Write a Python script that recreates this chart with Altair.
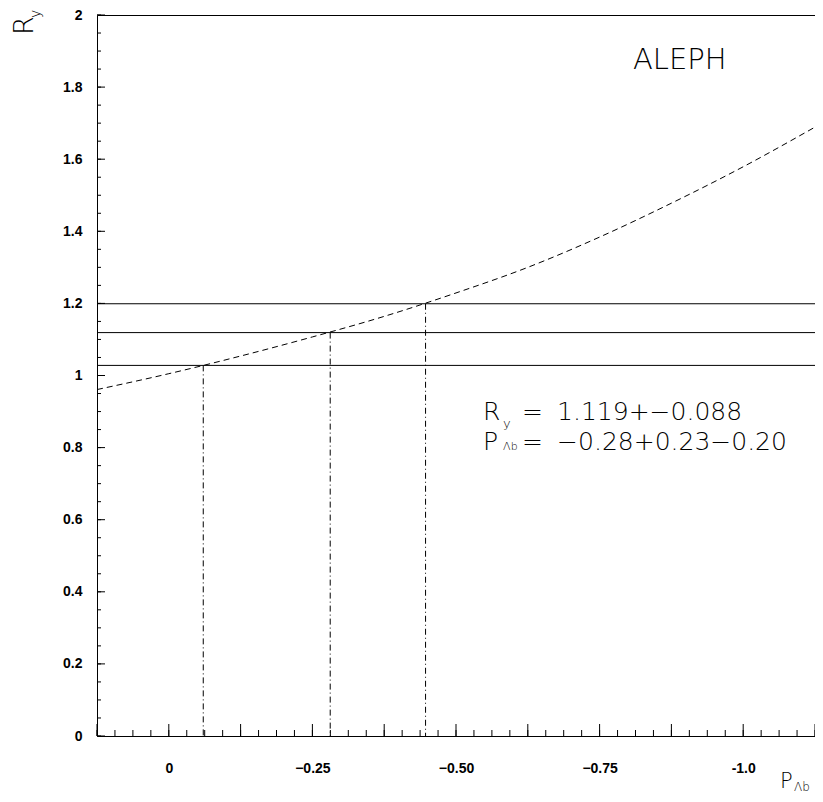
import altair as alt
import numpy as np
import pandas as pd

# ---- values ----
P_curve = [0.125, 0.0, -0.125, -0.25, -0.375, -0.5, -0.625, -0.75, -0.875, -1.0, -1.125]
R_curve = [0.961, 1.005, 1.054, 1.107, 1.164, 1.229, 1.300, 1.384, 1.478, 1.579, 1.689]

band_R = [1.028, 1.119, 1.199]      # horizontal lines: R_y - err, R_y, R_y + err
cross_P = [-0.060, -0.281, -0.447]  # where the curve crosses them

x_tick_values = [0, -0.25, -0.5, -0.75, -1.0]
y_tick_values = [0, 0.2, 0.4, 0.6, 0.8, 1.0, 1.2, 1.4, 1.6, 1.8, 2.0]

# tick-mark grid of the frame (axis structure)
x_minor = list(np.round(np.arange(-1.125, 0.125 + 1e-9, 0.03125), 5))
x_major = list(np.round(np.arange(-1.125, 0.125 + 1e-9, 0.125), 5))
y_minor = list(np.round(np.arange(0, 2 + 1e-9, 0.05), 5))
y_major = list(np.round(np.arange(0, 2 + 1e-9, 0.2), 5))

W, H = 718, 721
FONT = "DejaVu Sans"

xs = alt.Scale(domain=[-1.125, 0.125], reverse=True, nice=False, zero=False)
ys = alt.Scale(domain=[0, 2], nice=False, zero=True)

xaxis = alt.Axis(
    values=x_tick_values, title=None, ticks=False, domain=False, grid=False,
    labelExpr="datum.value == 0 ? '0' : (datum.value == -1 ? '-1.0' : format(datum.value, '.2f'))",
    labelFont="Liberation Sans", labelFontWeight="bold", labelFontSize=14,
    labelColor="black", labelPadding=25)
yaxis = alt.Axis(
    values=y_tick_values, title=None, ticks=False, domain=False, grid=False,
    format=".1~f", labelFont="Liberation Sans", labelFontWeight="bold",
    labelFontSize=14, labelColor="black", labelPadding=15)

def X(field="P"):
    return alt.X(f"{field}:Q", scale=xs, axis=xaxis)

def Y(field="R"):
    return alt.Y(f"{field}:Q", scale=ys, axis=yaxis)

curve_df = pd.DataFrame({"P": P_curve, "R": R_curve})
band_df = pd.DataFrame({"R": band_R})
cross_df = pd.DataFrame({"P": cross_P, "R": band_R, "R0": [0, 0, 0]})

curve = alt.Chart(curve_df).mark_line(
    color="black", strokeWidth=1, strokeDash=[6, 4], interpolate="monotone"
).encode(x=X(), y=Y())

hlines = alt.Chart(band_df).mark_rule(color="black", strokeWidth=1).encode(y=Y())

vlines = alt.Chart(cross_df).mark_rule(
    color="black", strokeWidth=1, strokeDash=[6, 3, 1, 3]
).encode(x=X(), y=Y(), y2="R0:Q")

# inward tick marks
def xticks(vals, length):
    return alt.Chart(pd.DataFrame({"P": vals})).mark_rule(color="black", strokeWidth=1).encode(
        x=X(), y=alt.value(H), y2=alt.value(H - length))

def yticks(vals, length):
    return alt.Chart(pd.DataFrame({"R": vals})).mark_rule(color="black", strokeWidth=1).encode(
        y=Y(), x=alt.value(0), x2=alt.value(length))

# annotations in data coordinates
ann_text = ["ALEPH", "R", "y", "=", "1.119+\u22120.088", "P", "\u039bb", "=", "\u22120.28+0.23\u22120.20"]
ann_P = [-0.808, -0.547, -0.582, -0.615, -0.676, -0.547, -0.582, -0.615, -0.676]
ann_R = [1.851, 0.876, 0.854, 0.876, 0.876, 0.793, 0.793, 0.793, 0.793]
ann_size = [29, 25, 13, 25, 25, 25, 11, 25, 25]
ann_df = pd.DataFrame({"t": ann_text, "P": ann_P, "R": ann_R, "s": ann_size})

ann = alt.Chart(ann_df).mark_text(
    align="left", baseline="alphabetic", font=FONT, fontWeight=200, color="black"
).encode(
    x=X(), y=Y(), text="t:N",
    size=alt.Size("s:Q", scale=None, legend=None),
)

# axis titles
def label(txt, x, y, size, angle=0):
    return alt.Chart(pd.DataFrame({"t": [txt]})).mark_text(
        align="left", baseline="alphabetic", font=FONT, fontWeight=200,
        fontSize=size, angle=angle, color="black"
    ).encode(text="t:N", x=alt.value(x), y=alt.value(y))

titles = [
    label("R", -64, 20, 27, 270),
    label("y", -57, 3, 14, 270),
    label("P", 683, 773, 21),
    label("\u039bb", 697, 776, 12),
]

chart = alt.layer(
    curve, hlines, vlines,
    xticks(x_minor, 6), xticks(x_major, 12),
    yticks(y_minor, 4), yticks(y_major, 8),
    ann, *titles,
).properties(
    width=W, height=H,
    background="white",
    autosize=alt.AutoSizeParams(type="none"),
    padding={"left": 89, "top": 7, "right": 0, "bottom": 58},
).configure_view(
    stroke="black", strokeWidth=1
)

chart.save("out.html", embed_options={"renderer": "svg", "actions": False})
